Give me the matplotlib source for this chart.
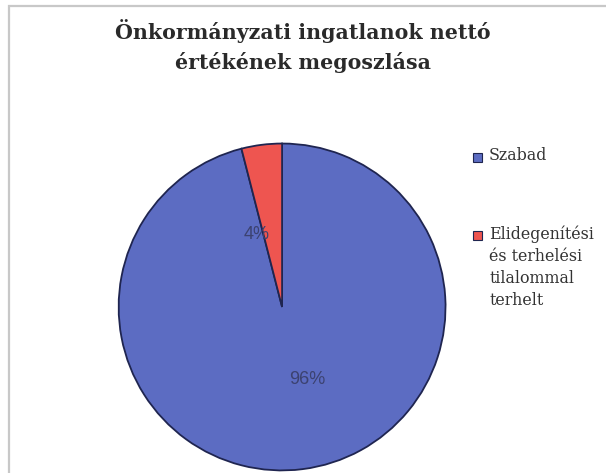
import numpy as np
import matplotlib.pyplot as plt
from matplotlib.patches import Rectangle

# megoszlás (%)
kategoriak = ['Szabad', 'Elidegenítési\nés terhelési\ntilalommal\nterhelt']
ertekek = [96, 4]
szinek = ['#5c6cc2', '#ee5550']

fig = plt.figure(figsize=(6.06, 4.73), dpi=100)
fig.patch.set_facecolor('white')

# halvány keret a diagram körül
fig.patches.append(Rectangle((9 / 606, -0.1), 1.2, 1 - 6 / 473 + 0.1,
                             transform=fig.transFigure, fill=False,
                             edgecolor='#c8c8c8', linewidth=1.6))

fig.text(0.5, 1 - 46 / 473, 'Önkormányzati ingatlanok nettó\nértékének megoszlása',
         ha='center', va='center', fontsize=14.8, fontweight='bold',
         family='DejaVu Serif', color='#2a2a2a', linespacing=1.5)

ax = fig.add_axes([0.193, 0.002, 0.545, 0.698])
wedges, texts, autotexts = ax.pie(
    ertekek, colors=szinek, startangle=90, counterclock=False,
    autopct='%1.0f%%', pctdistance=0.47,
    wedgeprops=dict(edgecolor='#1f2550', linewidth=1.3),
    textprops=dict(fontsize=13, color='#3c4270', family='Liberation Sans'))
# a százalékok kissé elforgatva a szelet közepéhez képest
for w, t in zip(wedges, autotexts):
    szog = np.deg2rad((w.theta1 + w.theta2) / 2 + 12)
    t.set_position((0.47 * np.cos(szog), 0.47 * np.sin(szog)))
ax.set_xlim(-1.01, 1.01)
ax.set_ylim(-1.01, 1.01)
ax.set_aspect('equal')

# jelmagyarázat: négyzet az első sor mellett
jel_y = [157, 235]
for nev, szin, y in zip(kategoriak, szinek, jel_y):
    fy = 1 - y / 473
    fig.patches.append(Rectangle((473 / 606, fy - 5 / 473), 9 / 606, 9 / 473,
                                 transform=fig.transFigure, facecolor=szin,
                                 edgecolor='#1f2550', linewidth=0.8))
    fig.text(489 / 606, fy + 10 / 473, nev, ha='left', va='top',
             family='DejaVu Serif', fontsize=11.4, color='#333333',
             linespacing=1.4)

fig.savefig('out.png', dpi=100)
